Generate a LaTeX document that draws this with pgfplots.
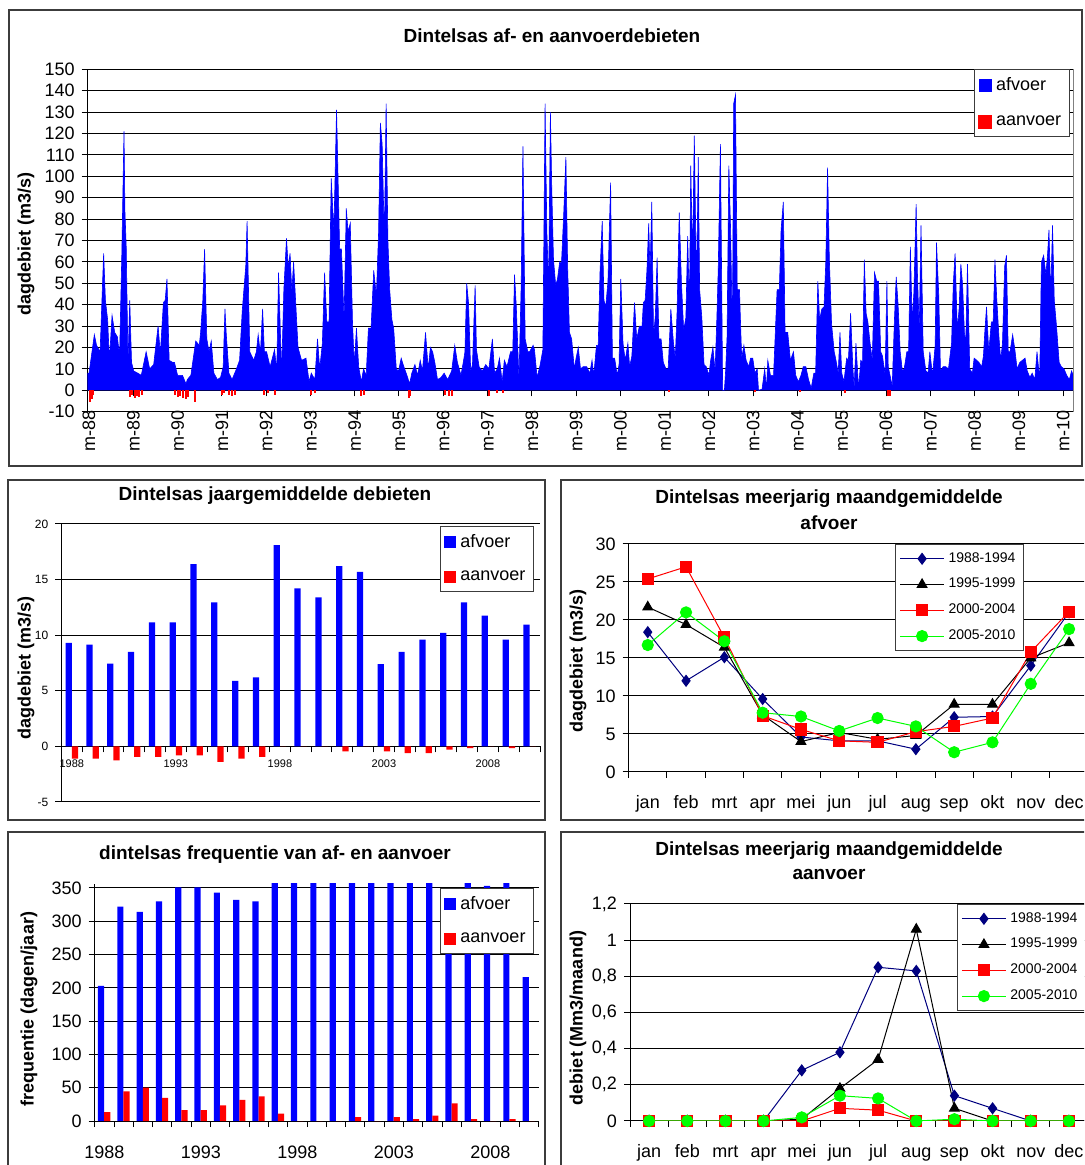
\documentclass[border=0pt]{standalone}
\usepackage{fontspec}
\setmainfont{Liberation Sans}
\usepackage{pgfplots}
\pgfplotsset{compat=1.18}
\definecolor{navyline}{RGB}{0,0,128}
\definecolor{limeline}{RGB}{0,255,0}
\definecolor{framegray}{RGB}{60,60,60}
\newcommand{\fs}[1]{\fontsize{#1}{#1}\selectfont}

\pgfplotsset{
  every axis/.append style={
    scale only axis,
    /pgf/number format/assume math mode=true,
    axis line style={black, line width=0.5pt},
    grid style={black, line width=0.5pt},
    tick style={black, line width=0.5pt},
    tick align=outside,
    major tick length=3pt,
    minor tick length=3pt,
    ymajorgrids,
    legend cell align=left,
  },
  sqleg/.style={legend image code/.code={\fill[#1] (0pt,-3pt) rectangle (6pt,3pt);}},
  lnleg/.style={legend image code/.code={\draw[mark repeat=2,mark phase=2,##1] plot coordinates {(0pt,0pt) (11pt,0pt) (22pt,0pt)};}},
  monthlabels/.style={xticklabel style={font=\fs{9}, text height=6.5pt, text depth=2pt}},
}

\begin{document}
\begin{tikzpicture}[x=0.5pt,y=0.5pt]
\useasboundingbox (0,0) rectangle (1084,1165);
\fill[white] (0,0) rectangle (1084,1165);
\clip (0,0) rectangle (1084,1165);

% frames
\draw[framegray, line width=0.9pt] (9,1155) rectangle (1082,699);
\draw[framegray, line width=0.9pt] (8,685) rectangle (545,345);
\draw[framegray, line width=0.9pt] (561,685) rectangle (1095,345);
\draw[framegray, line width=0.9pt] (8,333) rectangle (545,-10);
\draw[framegray, line width=0.9pt] (561,333) rectangle (1095,-10);

% titles
\node[font=\bfseries\fs{9.5}] at (552,1129) {Dintelsas af- en aanvoerdebieten};
\node[font=\bfseries\fs{9.5}] at (275,669) {Dintelsas jaargemiddelde debieten};
\node[font=\bfseries\fontsize{9.5}{13}\selectfont, align=center] at (829,655) {Dintelsas meerjarig maandgemiddelde\\afvoer};
\node[font=\bfseries\fs{9.5}] at (275,310) {dintelsas frequentie van af- en aanvoer};
\node[font=\bfseries\fontsize{9.5}{12}\selectfont, align=center] at (829,304) {Dintelsas meerjarig maandgemiddelde\\aanvoer};

% y labels
\node[rotate=90, font=\bfseries\fs{9}] at (26,921) {dagdebiet (m3/s)};
\node[rotate=90, font=\bfseries\fs{9}] at (26,497) {dagdebiet (m3/s)};
\node[rotate=90, font=\bfseries\fs{9}] at (578,504) {dagdebiet (m3/s)};
\node[rotate=90, font=\bfseries\fs{9}] at (29,156) {frequentie (dagen/jaar)};
\node[rotate=90, font=\bfseries\fs{9}] at (578,147) {debiet (Mm3/maand)};

% ---- daily discharges
\begin{axis}[
  at={(43.85pt,547.85pt)}, anchor=north west,
  width=492.8pt, height=171.2pt,
  xmin=-0.03, xmax=22.23, ymin=-10, ymax=150,
  axis y line*=left, axis x line*=middle,
  ytick={-10,0,...,150},
  xtick={0,...,22},
  xticklabels={m-88,m-89,m-90,m-91,m-92,m-93,m-94,m-95,m-96,m-97,m-98,m-99,m-00,m-01,m-02,m-03,m-04,m-05,m-06,m-07,m-08,m-09,m-10},
  xticklabel style={rotate=90, anchor=east, font=\fs{9}},
  xticklabel shift=3.5pt,
  yticklabel style={font=\fs{9}},
  legend style={at={(0.899,1)}, anchor=north west, draw=framegray, font=\fs{9}, row sep=7pt, inner sep=2pt},
  after end axis/.code={\draw[gray] (rel axis cs:1,0) -- (rel axis cs:1,1);},
]
\addplot[fill=blue, draw=blue, line width=0.3pt, sqleg=blue] coordinates {
(-0.03,0) (-0.03,8) (0.00,8) (0.12,26) (0.17,21) (0.25,18) (0.33,64) (0.37,42) (0.42,33) (0.46,14) (0.52,35) (0.58,27) (0.64,25) (0.69,16) (0.74,63) (0.79,121) (0.81,84) (0.84,67) (0.88,13) (0.92,42) (0.96,13) (1.01,9) (1.10,8) (1.18,7) (1.29,18) (1.37,10) (1.46,12) (1.56,30) (1.61,17) (1.68,41) (1.72,42) (1.76,52) (1.81,14) (1.89,13) (1.93,13) (2.00,7) (2.11,7) (2.19,3) (2.22,5) (2.30,7) (2.41,23) (2.49,21) (2.52,27) (2.57,42) (2.61,66) (2.66,24) (2.71,18) (2.76,23) (2.82,8) (2.90,5) (2.97,6) (3.03,11) (3.07,38) (3.10,26) (3.16,8) (3.23,5) (3.33,10) (3.40,14) (3.46,37) (3.49,45) (3.54,58) (3.57,79) (3.63,18) (3.72,14) (3.78,18) (3.82,26) (3.87,17) (3.92,38) (3.96,18) (4.01,18) (4.09,11) (4.19,19) (4.24,9) (4.28,55) (4.35,8) (4.40,47) (4.46,71) (4.50,57) (4.54,64) (4.58,46) (4.62,60) (4.66,44) (4.72,20) (4.80,14) (4.90,15) (4.97,4) (5.02,8) (5.10,5) (5.16,24) (5.21,10) (5.27,22) (5.32,55) (5.37,32) (5.42,32) (5.47,99) (5.53,74) (5.59,131) (5.66,66) (5.70,66) (5.76,33) (5.81,85) (5.85,74) (5.90,78) (5.95,32) (5.99,12) (6.04,29) (6.09,11) (6.15,4) (6.20,10) (6.26,7) (6.31,29) (6.37,29) (6.43,56) (6.49,44) (6.54,74) (6.58,125) (6.62,115) (6.67,70) (6.71,134) (6.75,70) (6.79,47) (6.84,33) (6.88,29) (6.94,10) (6.99,9) (7.05,15) (7.11,11) (7.18,7) (7.24,3) (7.29,8) (7.36,12) (7.42,7) (7.48,14) (7.53,9) (7.60,27) (7.66,10) (7.71,20) (7.76,18) (7.81,13) (7.87,5) (7.95,6) (8.02,8) (8.10,5) (8.19,9) (8.26,21) (8.32,13) (8.40,7) (8.46,14) (8.49,18) (8.53,50) (8.57,41) (8.62,9) (8.66,12) (8.72,49) (8.75,19) (8.81,11) (8.88,9) (8.96,12) (9.03,10) (9.11,24) (9.16,8) (9.22,10) (9.27,15) (9.33,4) (9.38,14) (9.44,11) (9.52,18) (9.57,18) (9.61,54) (9.65,39) (9.71,5) (9.76,49) (9.80,114) (9.85,24) (9.91,18) (9.95,18) (10.03,21) (10.06,19) (10.12,6) (10.19,12) (10.25,19) (10.30,134) (10.34,74) (10.38,48) (10.42,130) (10.45,95) (10.49,61) (10.54,49) (10.58,52) (10.63,60) (10.67,59) (10.72,82) (10.77,109) (10.81,57) (10.85,27) (10.90,24) (10.96,10) (11.00,15) (11.05,20) (11.10,10) (11.16,11) (11.24,11) (11.31,8) (11.36,14) (11.40,7) (11.46,21) (11.50,21) (11.54,55) (11.59,79) (11.63,42) (11.67,39) (11.72,51) (11.78,97) (11.82,15) (11.87,15) (11.93,7) (11.97,12) (12.01,52) (12.06,22) (12.11,14) (12.17,22) (12.21,11) (12.26,16) (12.32,41) (12.37,24) (12.43,30) (12.49,30) (12.52,41) (12.56,42) (12.60,56) (12.64,78) (12.67,55) (12.71,88) (12.75,25) (12.79,35) (12.83,62) (12.87,24) (12.92,24) (12.97,13) (13.03,10) (13.08,10) (13.14,38) (13.20,22) (13.24,15) (13.28,36) (13.33,83) (13.38,50) (13.43,28) (13.48,34) (13.52,72) (13.56,38) (13.59,105) (13.63,61) (13.67,119) (13.72,47) (13.76,109) (13.79,47) (13.84,34) (13.89,12) (13.94,11) (14.00,7) (14.04,14) (14.09,20) (14.14,9) (14.18,34) (14.21,56) (14.26,115) (14.29,46) (14.31,0) (14.35,0) (14.38,10) (14.41,25) (14.45,105) (14.49,75) (14.53,25) (14.56,134) (14.60,138) (14.64,47) (14.69,47) (14.74,15) (14.79,21) (14.84,14) (14.90,11) (14.94,15) (14.99,15) (15.04,8) (15.09,10) (15.12,0) (15.20,0.5) (15.26,10) (15.30,0.5) (15.33,14) (15.39,7) (15.46,7) (15.54,47) (15.59,47) (15.63,75) (15.68,88) (15.72,27) (15.78,27) (15.84,14) (15.91,18) (15.96,7) (16.02,4) (16.08,7) (16.13,11) (16.19,11) (16.25,5) (16.31,1) (16.37,8) (16.41,8) (16.46,51) (16.50,33) (16.55,38) (16.60,39) (16.64,60) (16.68,104) (16.72,61) (16.77,31) (16.83,18) (16.87,14) (16.92,8) (16.96,27) (17.00,8) (17.05,4) (17.11,15) (17.15,14) (17.20,36) (17.25,11) (17.28,1) (17.32,22) (17.38,1) (17.43,14) (17.47,13) (17.51,61) (17.55,36) (17.59,32) (17.64,22) (17.69,14) (17.74,55) (17.79,51) (17.83,51) (17.88,18) (17.92,16) (17.98,7) (18.02,51) (18.05,11) (18.09,7) (18.14,2) (18.19,33) (18.23,53) (18.27,41) (18.32,18) (18.37,9) (18.41,10) (18.47,18) (18.51,18) (18.55,67) (18.59,32) (18.63,46) (18.68,87) (18.71,54) (18.75,28) (18.79,77) (18.84,18) (18.90,9) (18.95,8) (18.99,18) (19.05,7) (19.11,21) (19.14,69) (19.19,45) (19.23,9) (19.29,11) (19.35,11) (19.41,10) (19.48,22) (19.52,50) (19.56,64) (19.61,28) (19.65,38) (19.69,59) (19.73,49) (19.77,27) (19.80,22) (19.84,59) (19.89,10) (19.95,8) (19.99,15) (20.05,14) (20.10,13) (20.16,11) (20.20,16) (20.23,27) (20.27,39) (20.32,18) (20.38,32) (20.42,32) (20.46,61) (20.50,43) (20.55,25) (20.59,14) (20.63,22) (20.68,58) (20.72,63) (20.76,18) (20.80,18) (20.86,26) (20.91,19) (20.96,10) (21.02,13) (21.08,14) (21.14,15) (21.19,9) (21.25,6) (21.30,8) (21.36,5) (21.41,18) (21.47,5) (21.51,60) (21.56,63) (21.61,54) (21.65,64) (21.68,75) (21.72,44) (21.76,77) (21.80,42) (21.85,30) (21.91,13) (21.96,11) (22.02,10) (22.08,7) (22.14,5) (22.19,9) (22.23,7) (22.23,0)
};
\addlegendentry{afvoer}
\addplot[red, ycomb, line width=1pt, sqleg=red] coordinates {
(0.02,-5.5) (0.06,-4) (0.08,-2) (0.93,-3) (0.98,-2) (1.03,-3.5) (1.08,-2.5) (1.13,-3) (1.20,-2)
(1.95,-2) (2.00,-3) (2.06,-2.5) (2.12,-3.5) (2.18,-4) (2.24,-3) (2.39,-5.5)
(3.00,-2) (3.05,-1.5) (3.15,-2) (3.22,-2.5) (3.30,-2) (3.95,-2) (4.05,-1.5) (4.20,-2)
(5.02,-2) (5.10,-1.5) (6.15,-2.5) (6.20,-2) (7.22,-3.5) (7.26,-2.5) (8.05,-2) (8.12,-2.5) (8.20,-2.5)
(9.03,-2.5) (9.22,-1.5) (9.34,-1.5) (13.09,-1) (15.03,-1) (16.06,-1) (17.08,-1.5) (18.04,-2.5) (18.10,-2.5)
};
\addlegendentry{aanvoer}
\end{axis}

% ---- yearly means
\begin{axis}[
  at={(30.7pt,320.5pt)}, anchor=north west,
  width=239.3pt, height=139pt,
  xmin=-0.5, xmax=22.5, ymin=-5, ymax=20,
  axis y line*=left, axis x line*=middle,
  ytick={-5,0,...,20},
  xtick={0,5,10,15,20}, xticklabels={1988,1993,1998,2003,2008},
  minor xtick={-0.5,0.5,...,22.5},
  major x tick style={draw=none},
  xticklabel style={font=\fs{5.5}},
  xticklabel shift=0pt,
  yticklabel style={font=\fs{6}},
  legend style={at={(0.791,0.993)}, anchor=north west, draw=framegray, font=\fs{9}, row sep=6pt, inner sep=2pt},
]
\addplot[ybar, bar width=0.3, bar shift=-0.15, fill=blue, draw=none, sqleg=blue] coordinates {
(0,9.3) (1,9.15) (2,7.45) (3,8.5) (4,11.15) (5,11.15) (6,16.4) (7,12.95) (8,5.9) (9,6.2) (10,18.1) (11,14.2)
(12,13.4) (13,16.2) (14,15.7) (15,7.4) (16,8.5) (17,9.6) (18,10.2) (19,12.95) (20,11.75) (21,9.6) (22,10.95)
};
\addlegendentry{afvoer}
\addplot[ybar, bar width=0.3, bar shift=0.15, fill=red, draw=none, sqleg=red] coordinates {
(0,-1.1) (1,-1.1) (2,-1.25) (3,-0.95) (4,-0.95) (5,-0.8) (6,-0.8) (7,-1.4) (8,-1.1) (9,-0.95) (10,0) (11,0)
(12,0) (13,-0.45) (14,0) (15,-0.45) (16,-0.6) (17,-0.6) (18,-0.3) (19,-0.15) (20,0) (21,-0.15) (22,0)
};
\addlegendentry{aanvoer}
\end{axis}

% ---- monthly means afvoer
\begin{axis}[
  at={(314.3pt,310.5pt)}, anchor=north west,
  width=229.8pt, height=114pt,
  xmin=0.5, xmax=12.5, ymin=0, ymax=30,
  axis lines*=left,
  ytick={0,5,...,30},
  xtick={1,...,12}, xticklabels={jan,feb,mrt,apr,mei,jun,jul,aug,sep,okt,nov,dec},
  minor xtick={0.5,1.5,...,12.5},
  major x tick style={draw=none},
  xticklabel shift=5pt,
  yticklabel style={font=\fs{9}},
  monthlabels,
  every axis plot/.append style={line width=0.5pt, lnleg},
  legend style={at={(0.58,1)}, anchor=north west, draw=framegray, font=\fs{7}, row sep=2.5pt, inner sep=2pt},
]
\addplot[navyline, mark=diamond*, mark size=2.7pt] coordinates {
(1,18.4) (2,12.0) (3,15.1) (4,9.6) (5,4.6) (6,4.1) (7,4.1) (8,3.0) (9,7.2) (10,7.3) (11,14.0) (12,21.0)};
\addlegendentry{1988-1994}
\addplot[black, mark=triangle*, mark size=2.8pt] coordinates {
(1,21.7) (2,19.4) (3,16.4) (4,7.5) (5,4.0) (6,5.2) (7,4.3) (8,4.8) (9,8.9) (10,8.9) (11,15.0) (12,17.0)};
\addlegendentry{1995-1999}
\addplot[red, mark=square*, mark size=2.8pt] coordinates {
(1,25.4) (2,27.0) (3,17.7) (4,7.4) (5,5.6) (6,4.1) (7,3.9) (8,5.3) (9,6.0) (10,7.1) (11,15.8) (12,21.1)};
\addlegendentry{2000-2004}
\addplot[limeline, mark=*, mark size=2.8pt] coordinates {
(1,16.7) (2,21.0) (3,17.2) (4,7.8) (5,7.3) (6,5.4) (7,7.1) (8,6.0) (9,2.6) (10,3.9) (11,11.6) (12,18.8)};
\addlegendentry{2005-2010}
\end{axis}

% ---- frequency
\begin{axis}[
  at={(47.35pt,140.5pt)}, anchor=north west,
  width=221.95pt, height=118.5pt,
  xmin=-0.5, xmax=22.5, ymin=0, ymax=356,
  axis lines*=left,
  ytick={0,50,...,350},
  xtick={0,5,10,15,20}, xticklabels={1988,1993,1998,2003,2008},
  minor xtick={-0.5,0.5,...,22.5},
  major x tick style={draw=none},
  xticklabel shift=6pt,
  tick label style={font=\fs{9}},
  legend style={at={(0.778,0.983)}, anchor=north west, draw=framegray, font=\fs{9}, row sep=6pt, inner sep=2pt},
]
\addplot[ybar, bar width=0.32, bar shift=-0.17, fill=blue, draw=none, sqleg=blue] coordinates {
(0,203) (1,322) (2,314) (3,330) (4,351) (5,351) (6,343) (7,332) (8,330) (9,365) (10,365) (11,365)
(12,365) (13,365) (14,365) (15,365) (16,365) (17,365) (18,345) (19,365) (20,353) (21,365) (22,216)
};
\addlegendentry{afvoer}
\addplot[ybar, bar width=0.32, bar shift=0.15, fill=red, draw=none, sqleg=red] coordinates {
(0,13.5) (1,44.6) (2,50) (3,34.6) (4,16.5) (5,16.5) (6,23.5) (7,31.6) (8,37) (9,11) (10,0) (11,0)
(12,0) (13,6) (14,0) (15,6) (16,3) (17,8) (18,26.5) (19,3) (20,0) (21,3) (22,0)
};
\addlegendentry{aanvoer}
\end{axis}

% ---- monthly means aanvoer
\begin{axis}[
  at={(315pt,130.5pt)}, anchor=north west,
  width=229pt, height=108.5pt,
  xmin=0.5, xmax=12.5, ymin=0, ymax=1.2,
  axis lines*=left,
  ytick={0,0.2,0.4,0.6,0.8,1,1.2},
  /pgf/number format/use comma,
  xtick={1,...,12}, xticklabels={jan,feb,mrt,apr,mei,jun,jul,aug,sep,okt,nov,dec},
  minor xtick={0.5,1.5,...,12.5},
  major x tick style={draw=none},
  xticklabel shift=5pt,
  yticklabel style={font=\fs{9}},
  monthlabels,
  every axis plot/.append style={line width=0.5pt, lnleg},
  legend style={at={(0.714,1)}, anchor=north west, draw=framegray, font=\fs{7}, row sep=2.5pt, inner sep=2pt},
]
\addplot[navyline, mark=diamond*, mark size=2.7pt] coordinates {
(1,0) (2,0) (3,0) (4,0) (5,0.28) (6,0.38) (7,0.85) (8,0.83) (9,0.14) (10,0.07) (11,0) (12,0)};
\addlegendentry{1988-1994}
\addplot[black, mark=triangle*, mark size=2.8pt] coordinates {
(1,0) (2,0) (3,0) (4,0) (5,0.01) (6,0.18) (7,0.34) (8,1.06) (9,0.07) (10,0) (11,0) (12,0)};
\addlegendentry{1995-1999}
\addplot[red, mark=square*, mark size=2.8pt] coordinates {
(1,0) (2,0) (3,0) (4,0) (5,0) (6,0.07) (7,0.06) (8,0) (9,0) (10,0) (11,0) (12,0)};
\addlegendentry{2000-2004}
\addplot[limeline, mark=*, mark size=2.8pt] coordinates {
(1,0) (2,0) (3,0) (4,0) (5,0.02) (6,0.14) (7,0.125) (8,0) (9,0.01) (10,0) (11,0) (12,0)};
\addlegendentry{2005-2010}
\end{axis}
\end{tikzpicture}
\end{document}
